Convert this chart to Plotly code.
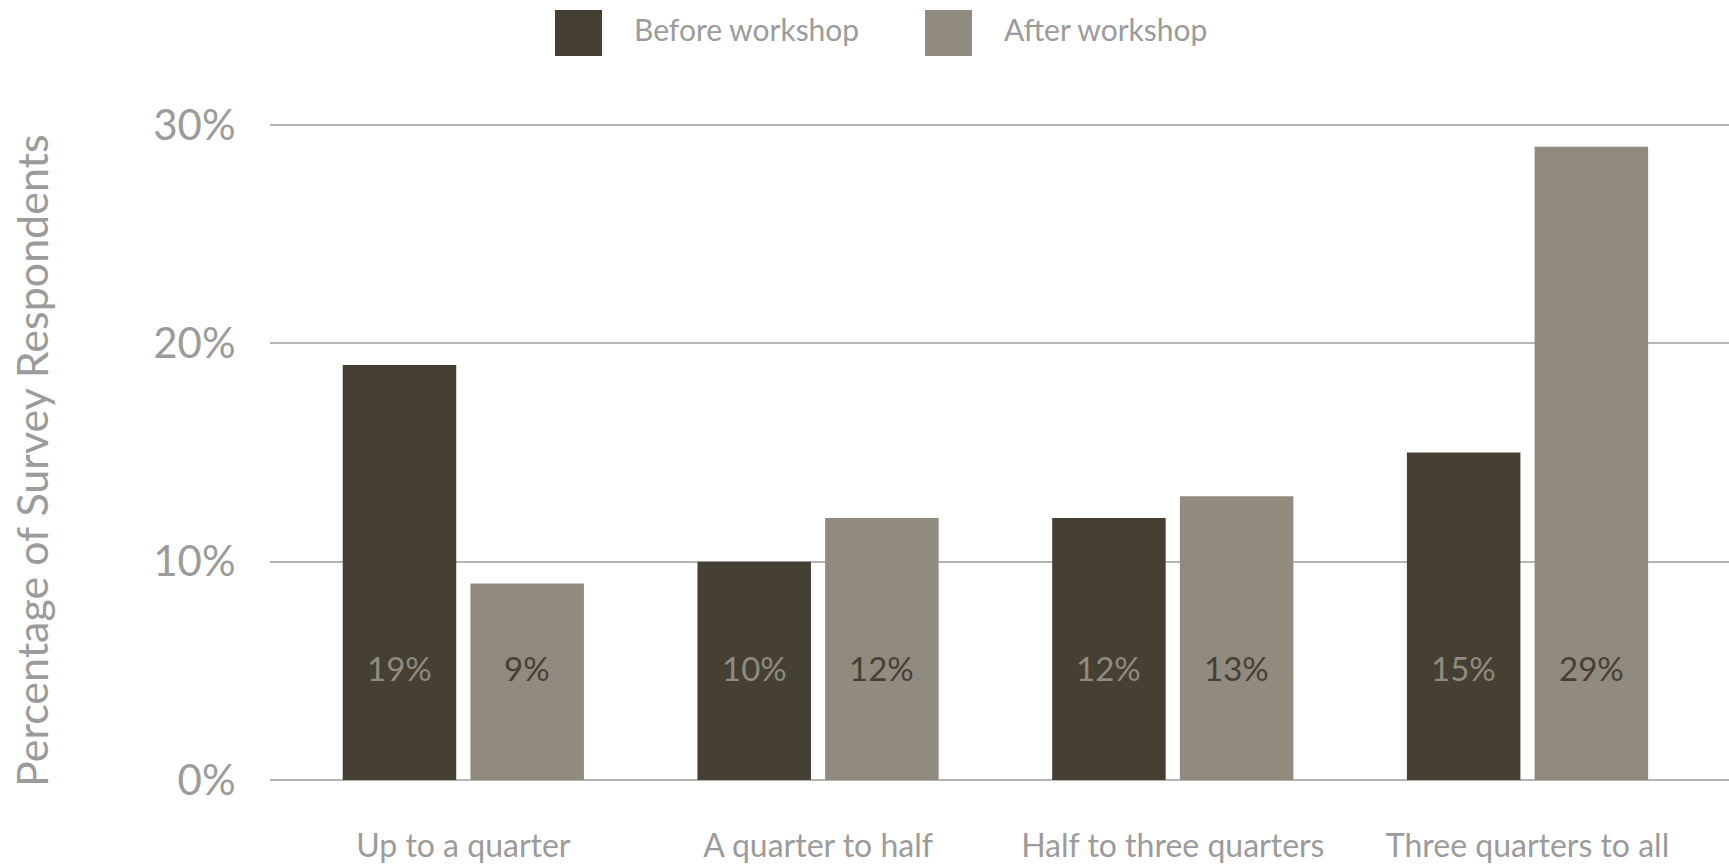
import plotly.graph_objects as go

# Survey data: share of respondents per category, before and after the workshop
categories = ["Up to a quarter", "A quarter to half", "Half to three quarters", "Three quarters to all"]
before_pct = [19, 10, 12, 15]
after_pct = [9, 12, 13, 29]
y_ticks = [0, 10, 20, 30]
y_tick_labels = ["0%", "10%", "20%", "30%"]
series_names = ["Before workshop", "After workshop"]
y_title = "Percentage of Survey Respondents"

DARK = "#463f33"
LIGHT = "#908b7e"
TEXT_GRAY = "#9b9b9b"
GRID = "#b4b4b4"
FONT = "Lato"

BAR_W = 0.32
OFFSETS = [-0.34, 0.02]
LABEL_Y = 5.15

MARGIN_L, MARGIN_T, MARGIN_B = 270, 114, 84
PLOT_W = 1729 - MARGIN_L
PLOT_H = 864 - MARGIN_T - MARGIN_B

x_idx = list(range(len(categories)))

fig = go.Figure()
for name, vals, color, off in zip(series_names, [before_pct, after_pct], [DARK, LIGHT], OFFSETS):
    fig.add_trace(go.Bar(
        x=x_idx, y=vals, name=name, marker=dict(color=color, line=dict(width=0)),
        width=BAR_W, offset=off, showlegend=False, hoverinfo="skip",
    ))

# Value labels near the bottom of each bar
label_colors = [LIGHT, DARK]
for vals, off, tc in zip([before_pct, after_pct], OFFSETS, label_colors):
    for i, v in zip(x_idx, vals):
        fig.add_annotation(
            x=i + off + BAR_W / 2, y=LABEL_Y, xref="x", yref="y",
            text=f"{v}%", showarrow=False,
            font=dict(family=FONT, size=33, color=tc),
        )


def px_x(px):
    return (px - MARGIN_L) / PLOT_W


def px_y(py):
    return 1 + (MARGIN_T - py) / PLOT_H


# Legend drawn as swatches with text
legend_x = [555, 925]
for name, color, lx in zip(series_names, [DARK, LIGHT], legend_x):
    fig.add_shape(type="rect", xref="paper", yref="paper",
                  x0=px_x(lx), x1=px_x(lx + 47),
                  y0=px_y(10), y1=px_y(56),
                  fillcolor=color, line=dict(width=0))
    fig.add_annotation(x=px_x(lx + 77), y=px_y(29),
                       xref="paper", yref="paper", xanchor="left", yanchor="middle",
                       text=name, showarrow=False,
                       font=dict(family=FONT, size=30, color=TEXT_GRAY))

# Vertical axis title
fig.add_annotation(x=px_x(31), y=px_y(461), xref="paper", yref="paper",
                   xanchor="center", yanchor="middle", textangle=-90,
                   text=y_title, showarrow=False,
                   font=dict(family=FONT, size=43, color=TEXT_GRAY))

fig.update_layout(
    width=1729, height=864,
    margin=dict(l=MARGIN_L, r=0, t=MARGIN_T, b=MARGIN_B),
    paper_bgcolor="white", plot_bgcolor="white",
    barmode="overlay",
    font=dict(family=FONT, color=TEXT_GRAY),
)
fig.update_xaxes(
    range=[-0.545, 3.568], tickvals=x_idx, ticktext=categories,
    showgrid=False, zeroline=False, showline=False,
    ticks="outside", ticklen=38, tickcolor="rgba(0,0,0,0)",
    tickfont=dict(family=FONT, size=32, color=TEXT_GRAY),
)
fig.update_yaxes(
    range=[0, 30.5], tickvals=y_ticks, ticktext=y_tick_labels,
    showgrid=True, gridcolor=GRID, gridwidth=1.5,
    zeroline=True, zerolinecolor=GRID, zerolinewidth=1.5, showline=False,
    ticks="outside", ticklen=25, tickcolor="rgba(0,0,0,0)",
    tickfont=dict(family=FONT, size=42, color=TEXT_GRAY),
)

fig.write_html("out.html")
